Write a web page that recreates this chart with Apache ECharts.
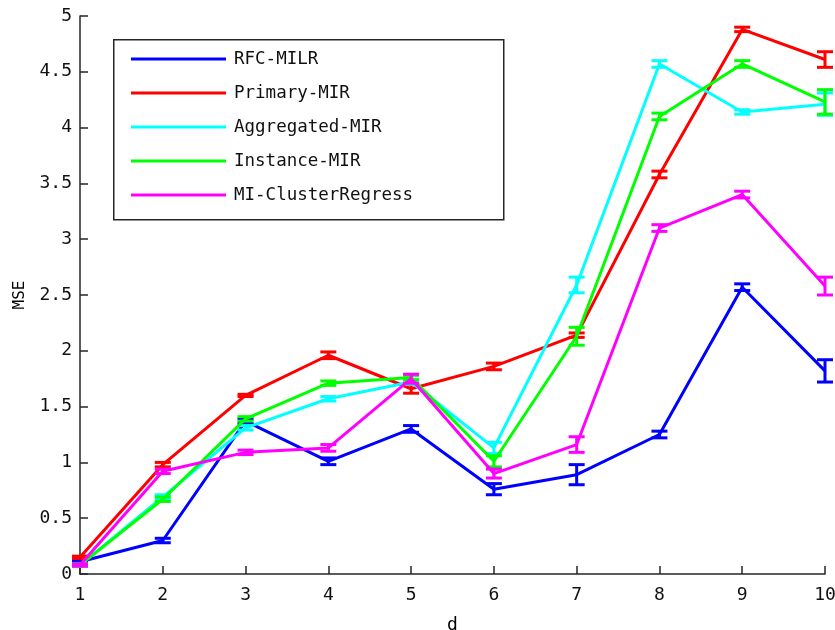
<!DOCTYPE html>
<html>
<head>
<meta charset="utf-8">
<style>
  html, body { margin: 0; padding: 0; background: #fff; }
  #chart { width: 835px; height: 630px; }
</style>
<script src="https://cdn.jsdelivr.net/npm/echarts@6/dist/echarts.min.js"></script>
</head>
<body>
<div id="chart"></div>
<script>
// Number of dimensions d on the x axis
const dims = [1, 2, 3, 4, 5, 6, 7, 8, 9, 10];

// Mean squared error per method
const rfcMilr      = [0.11, 0.30, 1.37, 1.01, 1.30, 0.76, 0.89, 1.25, 2.57, 1.82];
const primaryMir   = [0.15, 0.98, 1.60, 1.96, 1.66, 1.86, 2.14, 3.58, 4.88, 4.61];
const aggregMir    = [0.08, 0.69, 1.31, 1.57, 1.72, 1.13, 2.59, 4.57, 4.14, 4.21];
const instanceMir  = [0.08, 0.67, 1.39, 1.71, 1.76, 1.01, 2.13, 4.10, 4.57, 4.23];
const miCluster    = [0.08, 0.92, 1.09, 1.13, 1.75, 0.90, 1.16, 3.10, 3.40, 2.58];

// Half-length of each error bar
const rfcMilrErr     = [0.01, 0.02, 0.02, 0.03, 0.03, 0.05, 0.09, 0.03, 0.03, 0.10];
const primaryMirErr  = [0.01, 0.02, 0.01, 0.03, 0.04, 0.03, 0.02, 0.03, 0.02, 0.07];
const aggregMirErr   = [0.01, 0.02, 0.02, 0.02, 0.02, 0.05, 0.07, 0.03, 0.02, 0.10];
const instanceMirErr = [0.01, 0.02, 0.02, 0.02, 0.02, 0.05, 0.08, 0.03, 0.03, 0.11];
const miClusterErr   = [0.01, 0.02, 0.02, 0.03, 0.04, 0.04, 0.07, 0.03, 0.03, 0.08];

const methodNames = ['RFC-MILR', 'Primary-MIR', 'Aggregated-MIR', 'Instance-MIR', 'MI-ClusterRegress'];
const methodColors = ['#0000ff', '#ff0000', '#00ffff', '#00ff00', '#ff00ff'];
const methodValues = [rfcMilr, primaryMir, aggregMir, instanceMir, miCluster];
const methodErrors = [rfcMilrErr, primaryMirErr, aggregMirErr, instanceMirErr, miClusterErr];

const yTicks = [0, 0.5, 1, 1.5, 2, 2.5, 3, 3.5, 4, 4.5, 5];
const xTicks = dims;

const FONT = 'DejaVu Sans Mono';
const AXIS_COLOR = '#262626';

// Vertical error bar with caps at one data point
function errorBarItem(params, api) {
  const x = api.value(0), y = api.value(1), e = api.value(2);
  const top = api.coord([x, y + e]);
  const bot = api.coord([x, y - e]);
  const hw = 8;
  const style = { stroke: api.visual('color'), lineWidth: 3 };
  return {
    type: 'group',
    children: [
      { type: 'line', shape: { x1: top[0], y1: top[1], x2: bot[0], y2: bot[1] }, style },
      { type: 'line', shape: { x1: top[0] - hw, y1: top[1], x2: top[0] + hw, y2: top[1] }, style },
      { type: 'line', shape: { x1: bot[0] - hw, y1: bot[1], x2: bot[0] + hw, y2: bot[1] }, style }
    ]
  };
}

const series = [];
methodNames.forEach((name, i) => {
  series.push({
    name,
    type: 'line',
    data: dims.map((d, k) => [d, methodValues[i][k]]),
    showSymbol: false,
    symbol: 'none',
    lineStyle: { width: 3, color: methodColors[i] },
    itemStyle: { color: methodColors[i] },
    animation: false,
    z: 2 + i
  });
  series.push({
    name,
    type: 'custom',
    renderItem: errorBarItem,
    data: dims.map((d, k) => [d, methodValues[i][k], methodErrors[i][k]]),
    itemStyle: { color: methodColors[i] },
    encode: { x: 0, y: 1 },
    animation: false,
    z: 2 + i
  });
});

const chart = echarts.init(document.getElementById('chart'), null, { renderer: 'canvas' });
chart.setOption({
  backgroundColor: '#ffffff',
  animation: false,
  grid: { left: 80, right: 10, top: 16, bottom: 56, containLabel: false, outerBoundsMode: 'none' },
  xAxis: {
    type: 'value',
    min: xTicks[0],
    max: xTicks[xTicks.length - 1],
    interval: 1,
    name: 'd',
    nameLocation: 'middle',
    nameGap: 42,
    nameTextStyle: { fontFamily: FONT, fontSize: 18, color: '#000' },
    axisLine: { show: true, lineStyle: { color: AXIS_COLOR, width: 1.5 } },
    axisTick: { show: true, inside: true, length: 8, lineStyle: { color: AXIS_COLOR, width: 1.5 } },
    axisLabel: { fontFamily: FONT, fontSize: 18, color: '#111', margin: 12 },
    splitLine: { show: false }
  },
  yAxis: {
    type: 'value',
    min: yTicks[0],
    max: yTicks[yTicks.length - 1],
    interval: 0.5,
    name: 'MSE',
    nameLocation: 'middle',
    nameRotate: 90,
    nameGap: 52,
    nameTextStyle: { fontFamily: FONT, fontSize: 16, color: '#000' },
    axisLine: { show: true, lineStyle: { color: AXIS_COLOR, width: 1.5 } },
    axisTick: { show: true, inside: true, length: 8, lineStyle: { color: AXIS_COLOR, width: 1.5 } },
    axisLabel: { fontFamily: FONT, fontSize: 18, color: '#111', margin: 8 },
    splitLine: { show: false }
  },
  legend: {
    data: methodNames.map((n, i) => ({ name: n, icon: 'rect', itemStyle: { color: methodColors[i] } })),
    orient: 'vertical',
    left: 131,
    top: 49,
    padding: 0,
    itemWidth: 95,
    itemHeight: 3,
    itemGap: 14,
    selectedMode: false,
    textStyle: { fontFamily: FONT, fontSize: 17.5, color: '#111', lineHeight: 20, padding: [0, 0, 0, 3] }
  },
  graphic: [{
    type: 'rect',
    left: 113,
    top: 39,
    shape: { width: 390, height: 180 },
    style: { fill: '#ffffff', stroke: AXIS_COLOR, lineWidth: 1.5 },
    z: 0,
    zlevel: 0
  }],
  series
});
</script>
</body>
</html>
